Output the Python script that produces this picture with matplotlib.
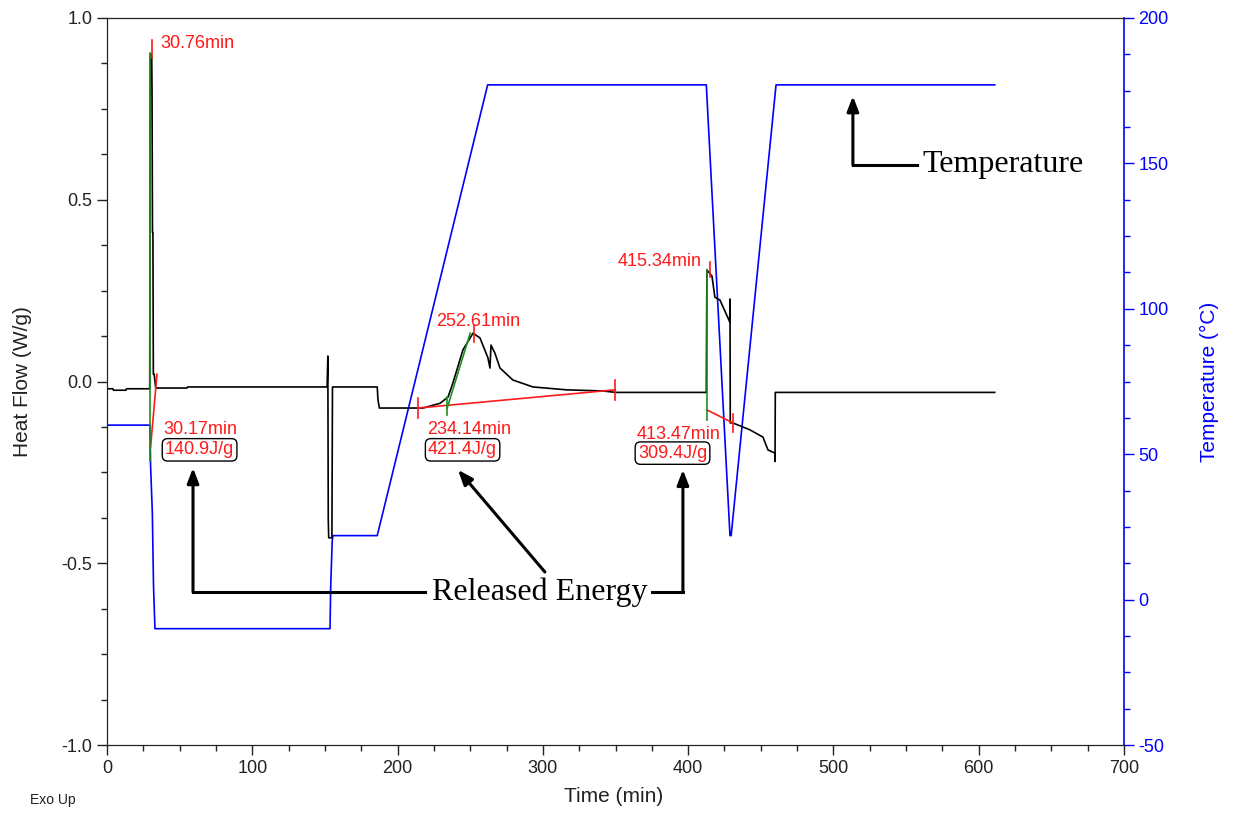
import numpy as np
import matplotlib.pyplot as plt
from matplotlib.ticker import MultipleLocator

plt.rcParams['font.family'] = ['Liberation Sans', 'DejaVu Sans']
plt.rcParams['axes.unicode_minus'] = False

# Heat flow signal (W/g) vs time (min)
time_hf = [0, 4, 4.5, 13, 13.5, 29.4, 29.8, 30.5, 30.8, 31.0, 31.3, 31.6, 31.9, 32.5, 33.5,
           55, 55.5, 151.5, 152.0, 152.3, 152.6, 154.8, 155.2, 186.0, 186.5, 187.5,
           217.5, 229.2, 234.7, 238.1, 245.0, 251.9, 256.7, 262.2, 263.6, 264.3, 267.0,
           270.5, 279.4, 293.2, 316.6, 341.4, 350, 412.5, 412.9, 416.4, 418.4, 421.9,
           427.4, 428.6, 428.8, 429.0, 430.8, 442.5, 451.5, 454.9, 459.7, 459.8, 460.0, 611]
heat_flow = [-0.02, -0.02, -0.024, -0.024, -0.02, -0.02, 0.90, 0.90, 0.89, 0.80, 0.41, 0.41, 0.02, 0.02, -0.018,
             -0.018, -0.015, -0.015, 0.07, -0.38, -0.43, -0.43, -0.015, -0.015, -0.05, -0.073,
             -0.073, -0.06, -0.043, -0.004, 0.087, 0.133, 0.12, 0.065, 0.037, 0.10, 0.078,
             0.037, 0.004, -0.015, -0.023, -0.026, -0.03, -0.03, 0.307, 0.29, 0.232, 0.224,
             0.175, 0.164, 0.227, -0.114, -0.114, -0.133, -0.153, -0.188, -0.197, -0.22, -0.03, -0.03]

# Sample temperature (C) vs time (min)
time_temp = [0, 29.6, 30.0, 31.2, 32.0, 33.0, 153.5, 154.0, 155.0, 155.5, 186, 262,
             412.5, 428.8, 429.6, 460.5, 611]
temp = [60, 60, 46, 30, 5, -10, -10, 5, 20, 22, 22, 177,
        177, 22, 22, 177, 177]

# Analysis construction lines (baselines, onsets, peaks)
base1_t, base1_hf = [30.0, 34.4], [-0.18, 0.02]
onset1_t, onset1_hf = [29.7, 29.7], [-0.22, 0.905]
peak1_t, peak1_hf = [30.76, 30.76], [0.89, 0.94]

base2_t, base2_hf = [214.0, 349.6], [-0.073, -0.023]
tick2a_t, tick2a_hf = [214.0, 214.0], [-0.10, -0.045]
tick2b_t, tick2b_hf = [349.6, 349.6], [-0.05, 0.005]
onset2_t, onset2_hf = [234.14, 250.0], [-0.073, 0.133]
onsettick2_t, onsettick2_hf = [234.14, 234.14], [-0.092, -0.043]
peak2_t, peak2_hf = [252.61, 252.61], [0.109, 0.155]

base3_t, base3_hf = [412.9, 430.8], [-0.078, -0.114]
tick3_t, tick3_hf = [430.8, 430.8], [-0.09, -0.14]
onset3_t, onset3_hf = [412.9, 412.9], [-0.106, 0.307]
peak3_t, peak3_hf = [415.34, 415.34], [0.287, 0.329]

fig = plt.figure(figsize=(12.34, 8.14), dpi=100)
ax = fig.add_axes([107/1234, 1 - 745/814, 1017/1234, 727/814])
ax2 = ax.twinx()

red = '#ff1a1a'
green = '#1f8f1f'
blue = '#0000ff'

ax2.plot(time_temp, temp, color=blue, lw=1.2)
ax.set_zorder(ax2.get_zorder() + 1)
ax.patch.set_visible(False)

ax.plot(time_hf, heat_flow, color='black', lw=1.2)

for tt, hh in [(base1_t, base1_hf), (peak1_t, peak1_hf), (base2_t, base2_hf), (tick2a_t, tick2a_hf),
               (tick2b_t, tick2b_hf), (peak2_t, peak2_hf), (base3_t, base3_hf), (tick3_t, tick3_hf),
               (peak3_t, peak3_hf)]:
    ax.plot(tt, hh, color=red, lw=1.2)
for tt, hh in [(onset1_t, onset1_hf), (onset2_t, onset2_hf), (onsettick2_t, onsettick2_hf),
               (onset3_t, onset3_hf)]:
    ax.plot(tt, hh, color=green, lw=1.2)

# red result labels
lbl = dict(color=red, fontsize=13, va='center')
box = dict(boxstyle='round,pad=0.15,rounding_size=0.3', fc='white', ec='black', lw=1)
ax.text(36.5, 0.931, '30.76min', **lbl)
ax.text(38.5, -0.131, '30.17min', **lbl)
ax.text(39.9, -0.188, '140.9J/g', bbox=box, **lbl)
ax.text(226.4, 0.164, '252.61min', **lbl)
ax.text(220.2, -0.131, '234.14min', **lbl)
ax.text(221.0, -0.188, '421.4J/g', bbox=box, **lbl)
ax.text(409.5, 0.331, '415.34min', ha='right', **lbl)
ax.text(364.8, -0.145, '413.47min', **lbl)
ax.text(365.4, -0.197, '309.4J/g', bbox=box, **lbl)

# black call-out arrows
serif = dict(family=['Liberation Serif', 'DejaVu Serif'], fontsize=23, color='black', va='center')
arrow = dict(arrowstyle='-|>,head_length=0.9,head_width=0.35', color='black', lw=2.2, shrinkA=0, shrinkB=0)
ax.text(561, 0.596, 'Temperature', **serif)
ax.plot([557.5, 513.4], [0.596, 0.596], color='black', lw=2.2)
ax.annotate('', xy=(513.4, 0.785), xytext=(513.4, 0.596), arrowprops=arrow)

ax.text(223.7, -0.579, 'Released Energy', **serif)
ax.plot([218.9, 59.2], [-0.579, -0.579], color='black', lw=2.2)
ax.annotate('', xy=(59.2, -0.238), xytext=(59.2, -0.579), arrowprops=arrow)
ax.annotate('', xy=(241.6, -0.243), xytext=(301.4, -0.524), arrowprops=arrow)
ax.plot([375.0, 396.4], [-0.579, -0.579], color='black', lw=2.2)
ax.annotate('', xy=(396.4, -0.243), xytext=(396.4, -0.579), arrowprops=arrow)

# axes styling
ax.set_xlim(0, 700)
ax.set_ylim(-1.0, 1.0)
ax2.set_ylim(-50, 200)
ax.xaxis.set_major_locator(MultipleLocator(100))
ax.xaxis.set_minor_locator(MultipleLocator(25))
ax.yaxis.set_major_locator(MultipleLocator(0.5))
ax.yaxis.set_minor_locator(MultipleLocator(0.125))
ax2.yaxis.set_major_locator(MultipleLocator(50))
ax2.yaxis.set_minor_locator(MultipleLocator(12.5))
ax.yaxis.set_major_formatter(lambda v, p: f'{v:.1f}')

ax.tick_params(which='major', direction='out', length=7, width=1, labelsize=13, colors='#222222')
ax.tick_params(which='minor', direction='out', length=4, width=1, colors='#222222')
ax2.tick_params(which='major', direction='out', length=7, width=1, labelsize=13, colors=blue)
ax2.tick_params(which='minor', direction='out', length=4, width=1, colors=blue)
for s in ['left', 'top', 'bottom']:
    ax.spines[s].set_color('#222222')
ax2.spines['right'].set_color(blue)
ax2.spines['right'].set_linewidth(1.2)
ax.spines['right'].set_visible(False)

ax.set_xlabel('Time (min)', fontsize=15, color='#222222')
ax.set_ylabel('Heat Flow (W/g)', fontsize=15, color='#222222')
ax2.set_ylabel('Temperature (°C)', fontsize=15, color=blue)
ax.xaxis.set_label_coords(0.4985, -0.058)
ax.yaxis.set_label_coords(-0.074, 0.5)
ax2.yaxis.set_label_coords(1.075, 0.5)

fig.text(30/1234, 1 - 800/814, 'Exo Up', fontsize=10, va='center', color='#222222')

fig.savefig('out.png', dpi=100)
